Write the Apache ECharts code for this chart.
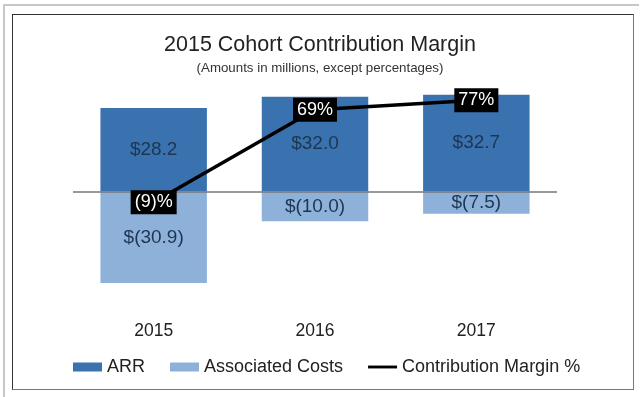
<!DOCTYPE html>
<html>
<head>
<meta charset="utf-8">
<script src="https://cdn.jsdelivr.net/npm/echarts@6/dist/echarts.min.js"></script>
<style>
  html, body { margin: 0; padding: 0; background: #fff; }
  .wrap { position: relative; width: 640px; height: 397px; overflow: hidden; }
  .shadow { position: absolute; left: 3px; top: 4px; width: 634px; height: 400px;
    border-left: 2px solid #c8c8c8; border-top: 2px solid #c8c8c8; }
  .frame { position: absolute; left: 12px; top: 14px; width: 620px; height: 374px;
    border: 1.5px solid #333; border-right-color: #777; border-bottom-color: #777; }
  #chart { position: absolute; left: 0; top: 0; width: 640px; height: 397px; }
</style>
</head>
<body>
<div class="wrap">
  <div class="shadow"></div>
  <div class="frame"></div>
  <div id="chart"></div>
</div>
<script>
const years = ['2015', '2016', '2017']
const arr = [28.2, 32.0, 32.7]
const costs = [-30.9, -10.0, -7.5]
const marginPct = [-9, 69, 77]

const FONT = '"Liberation Sans", Arial, sans-serif'
const money = v => v < 0 ? '$(' + Math.abs(v).toFixed(1) + ')' : '$' + v.toFixed(1)
const pct = v => v < 0 ? '(' + Math.abs(v) + ')%' : v + '%'

const chart = echarts.init(document.getElementById('chart'))
chart.setOption({
  animation: false,
  textStyle: { fontFamily: FONT },
  title: {
    text: '2015 Cohort Contribution Margin',
    subtext: '(Amounts in millions, except percentages)',
    left: 'center',
    top: 29,
    itemGap: 6,
    textStyle: { fontFamily: FONT, fontSize: 21.5, fontWeight: 'normal', color: '#222' },
    subtextStyle: { fontFamily: FONT, fontSize: 13.3, color: '#333' }
  },
  legend: {
    top: 358,
    left: 73,
    padding: 0,
    itemWidth: 29,
    itemHeight: 9,
    itemGap: 25,
    textStyle: { fontFamily: FONT, fontSize: 18, color: '#222' },
    data: [
      { name: 'ARR', icon: 'rect' },
      { name: 'Associated Costs', icon: 'rect' },
      { name: 'Contribution Margin %', icon: 'path://M0,0H30V3H0Z' }
    ]
  },
  grid: { left: 73, right: 83, top: 73, bottom: 87 },
  xAxis: {
    type: 'category',
    data: years,
    axisLine: { show: false },
    axisTick: { show: false },
    axisLabel: { margin: 12, fontSize: 17.5, color: '#222', fontFamily: FONT }
  },
  yAxis: [
    { type: 'value', min: -40, max: 40, show: false, splitLine: { show: false } },
    { type: 'value', min: -100, max: 100, show: false, splitLine: { show: false } }
  ],
  series: [
    {
      name: 'ARR',
      type: 'bar',
      data: arr,
      barWidth: '66%',
      barGap: '-100%',
      itemStyle: { color: '#3a72b0' },
      label: { show: true, position: 'inside', formatter: p => money(p.value),
        fontSize: 19, color: '#1e3550', fontFamily: FONT },
      markLine: {
        silent: true,
        symbol: 'none',
        label: { show: false },
        lineStyle: { color: '#777', width: 1.5, type: 'solid' },
        data: [{ yAxis: 0 }]
      }
    },
    {
      name: 'Associated Costs',
      type: 'bar',
      data: costs,
      barWidth: '66%',
      itemStyle: { color: '#8eb1da' },
      label: { show: true, position: 'inside', formatter: p => money(p.value),
        fontSize: 19, color: '#1e3550', fontFamily: FONT }
    },
    {
      name: 'Contribution Margin %',
      type: 'line',
      yAxisIndex: 1,
      data: marginPct,
      symbol: 'circle',
      symbolSize: 1,
      z: 10,
      lineStyle: { color: '#000', width: 3.5 },
      itemStyle: { color: '#000' },
      label: {
        show: true,
        position: 'inside',
        formatter: p => pct(p.value),
        backgroundColor: '#000',
        color: '#fff',
        fontSize: 18,
        fontFamily: FONT,
        padding: [3, 4, 3, 4]
      }
    }
  ]
})
</script>
</body>
</html>
